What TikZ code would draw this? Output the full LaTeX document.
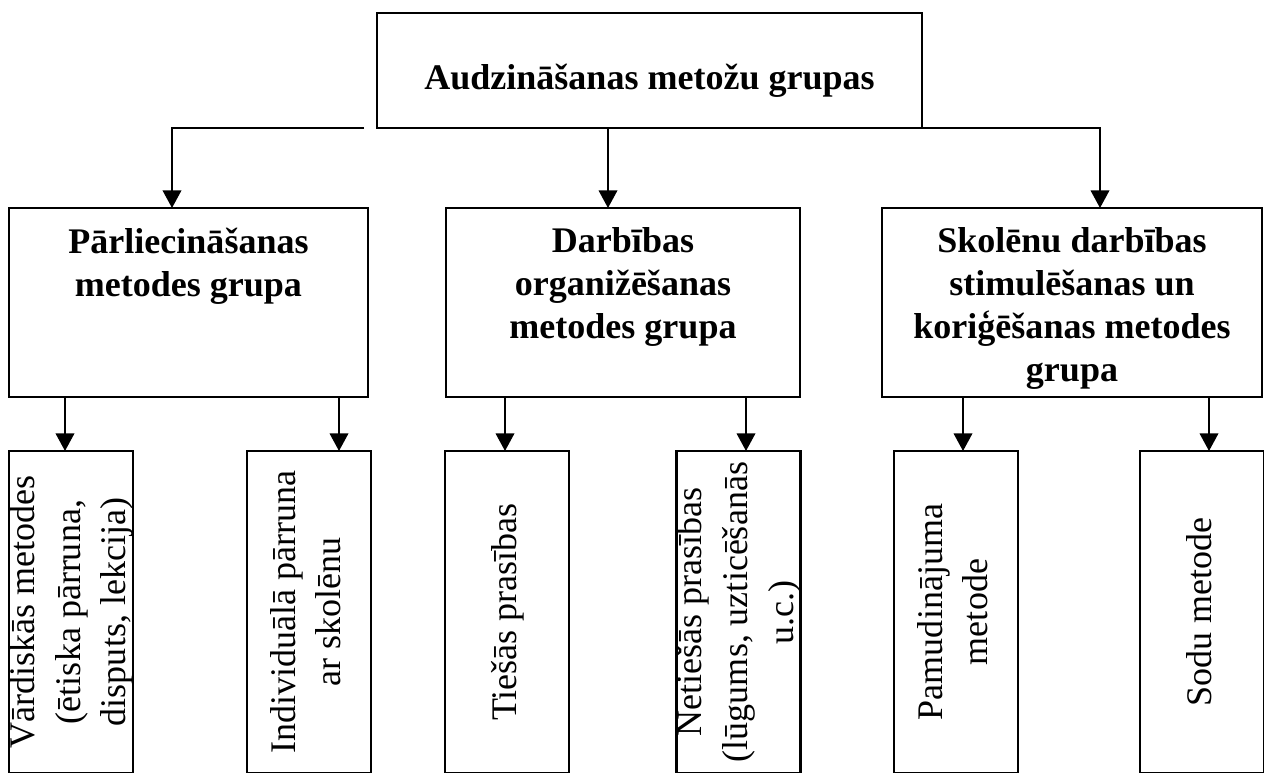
\documentclass[tikz,border=0pt]{standalone}
\usepackage{fontspec}
\setmainfont{Liberation Serif}
\usepackage{graphicx}
\usetikzlibrary{arrows.meta,positioning}

\tikzset{
  grp/.style={draw, line width=1.2pt, inner sep=0pt, outer sep=0pt},
  grptxt/.style={align=center, inner sep=0pt, font=\bfseries\fontsize{20.5}{24.5}\selectfont},
  meth/.style={draw, line width=1.2pt, inner sep=0pt, outer sep=0pt,
    minimum width=124*0.02cm, minimum height=322*0.02cm,
    font=\fontsize{20.5}{26}\selectfont},
  arr/.style={->, line width=1.2pt}
}
\newcommand{\vtxt}[1]{\makebox[0pt]{\rotatebox{90}{\begin{tabular}{@{}c@{}}#1\end{tabular}}}}

\begin{document}
\begin{tikzpicture}[x=0.02cm, y=-0.02cm, >={Triangle[length=10pt,width=10.5pt]}]
	\useasboundingbox (0,0) rectangle (1264,772);
	\clip (0,0) rectangle (1264,772);
	% galvenais bloks
	\node[grp, minimum width=545*0.02cm, minimum height=115*0.02cm] (top) at (649.5,70.5) {};
	\node[grptxt, below=29pt of top.north] (toptxt) {Audzināšanas metožu grupas};
	% grupas
	\node[grp, minimum width=359*0.02cm, minimum height=189*0.02cm] (g1) at (188.5,302.5) {};
	\node[grptxt, below=11pt of g1.north] (g1txt) {Pārliecināšanas\\metodes grupa};
	\node[grp, minimum width=354*0.02cm, minimum height=189*0.02cm] (g2) at (623,302.5) {};
	\node[grptxt, below=11pt of g2.north] (g2txt) {Darbības\\organižēšanas\\metodes grupa};
	\node[grp, minimum width=380*0.02cm, minimum height=189*0.02cm] (g3) at (1072,302.5) {};
	\node[grptxt, below=11pt of g3.north] (g3txt) {Skolēnu darbības\\stimulēšanas un\\koriģēšanas metodes\\grupa};
	% metodes
	\node[meth] (m1) at (71,612) {\vtxt{Vārdiskās metodes\\(ētiska pārruna,\\disputs, lekcija)}};
	\node[meth] (m2) at (309,612) {\vtxt{Individuālā pārruna\\ar skolēnu}};
	\node[meth] (m3) at (507,612) {\vtxt{Tiešās prasības}};
	\node[meth] (m4) at (738.5,612) {\vtxt{Netiešās prasības\\(lūgums, uzticēšanās\\u.c.)}};
	\node[meth] (m5) at (956,612) {\vtxt{Pamudinājuma\\metode}};
	\node[meth] (m6) at (1202,612) {\vtxt{Sodu metode}};
	% bultas
	\coordinate (lend) at (364,128);
	\draw[arr] (lend) -| (g1.north -| 172,0);
	\draw[arr] (top.south -| 608,0) -- (g2.north -| 608,0);
	\draw[arr] (top.south east) -| (g3.north -| 1100,0);
	\draw[arr] (g1.south -| 65,0) -- (m1.north -| 65,0);
	\draw[arr] (g1.south -| 339,0) -- (m2.north -| 339,0);
	\draw[arr] (g2.south -| 505,0) -- (m3.north -| 505,0);
	\draw[arr] (g2.south -| 746,0) -- (m4.north -| 746,0);
	\draw[arr] (g3.south -| 963,0) -- (m5.north -| 963,0);
	\draw[arr] (g3.south -| 1209,0) -- (m6.north -| 1209,0);
\end{tikzpicture}
\end{document}
